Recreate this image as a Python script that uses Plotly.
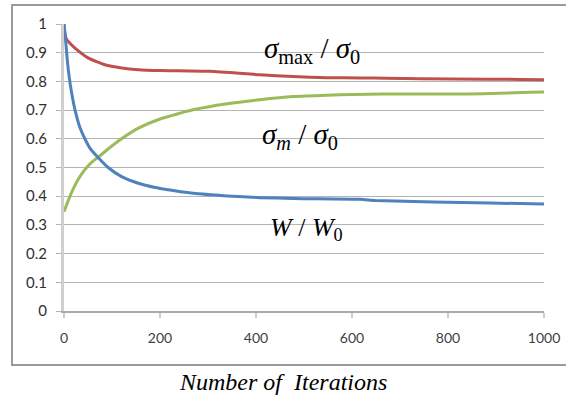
import plotly.graph_objects as go

red_x = [0, 2, 5, 9, 23, 51, 85, 120, 155, 200, 304, 408, 477, 548, 617, 672, 811, 950, 1000]
red_y = [1.0, 0.965, 0.948, 0.939, 0.916, 0.881, 0.858, 0.847, 0.841, 0.838, 0.835, 0.823, 0.817, 0.813, 0.812, 0.811, 0.808, 0.807, 0.806]

blue_x = [0, 3, 6, 9, 13, 18, 23, 33, 45, 55, 71, 92, 120, 155, 190, 210, 269, 340, 408, 477, 617, 648, 769, 888, 1000]
blue_y = [1.0, 0.95, 0.89, 0.84, 0.79, 0.74, 0.70, 0.640, 0.595, 0.565, 0.535, 0.50, 0.468, 0.445, 0.430, 0.424, 0.41, 0.401, 0.395, 0.392, 0.389, 0.385, 0.38, 0.376, 0.373]

green_x = [0, 10, 20, 30, 40, 50, 60, 75, 90, 120, 155, 200, 269, 340, 408, 477, 548, 602, 665, 840, 908, 971, 1000]
green_y = [0.346, 0.39, 0.428, 0.46, 0.485, 0.505, 0.521, 0.541, 0.562, 0.600, 0.637, 0.669, 0.701, 0.722, 0.736, 0.747, 0.752, 0.754, 0.756, 0.756, 0.759, 0.762, 0.763]

x_ticks = [0, 200, 400, 600, 800, 1000]
y_ticks = [0, 0.1, 0.2, 0.3, 0.4, 0.5, 0.6, 0.7, 0.8, 0.9, 1]
y_labels = ["0", "0.1", "0.2", "0.3", "0.4", "0.5", "0.6", "0.7", "0.8", "0.9", "1"]

fig = go.Figure()
for xs, ys, c in [(red_x, red_y, "#C0504D"), (green_x, green_y, "#9BBB59"), (blue_x, blue_y, "#4F81BD")]:
    fig.add_trace(go.Scatter(x=xs, y=ys, mode="lines", line=dict(color=c, width=3, shape="spline", smoothing=0.5),
                             showlegend=False))

W, H = 566, 398
L, R, T, B = 64, 22, 24, 87
PW, PH = W - L - R, H - T - B

fig.update_layout(
    width=W, height=H,
    margin=dict(l=L, r=R, t=T, b=B, autoexpand=False),
    paper_bgcolor="white", plot_bgcolor="white",
    font=dict(family="Lato", size=14, color="#404040"),
    xaxis=dict(range=[0, 1000], tickvals=x_ticks, ticktext=[str(v) for v in x_ticks],
               showgrid=False, zeroline=False, showline=True, linecolor="#aaaaaa", linewidth=2,
               ticks="outside", ticklen=5, tickcolor="#cccccc", tickwidth=2,
               ticklabelstandoff=8, automargin=False,
               tickfont=dict(size=14, color="#404040")),
    yaxis=dict(range=[0, 1], tickvals=y_ticks, ticktext=y_labels,
               showgrid=True, gridcolor="#b4b4b4", gridwidth=1, zeroline=False,
               showline=True, linecolor="#cfcfcf", linewidth=3,
               ticks="outside", ticklen=5, tickcolor="#b4b4b4", tickwidth=1,
               ticklabelstandoff=6, automargin=False,
               tickfont=dict(size=15, color="#303030")),
)

# outer chart border (right side runs off the image)
fig.add_shape(type="rect", xref="paper", yref="paper",
              x0=(12 - L) / PW, x1=(W + 40 - L) / PW,
              y0=(H - B - 365) / PH, y1=(H - B - 5) / PH,
              line=dict(color="#9a9a9a", width=2), layer="below")

serif = "'Liberation Serif', 'Times New Roman', Times, serif"
fig.add_annotation(xref="x", yref="y", x=412, y=0.91, xanchor="left", yanchor="middle",
                   text="<i>σ</i><sub>max</sub> / <i>σ</i><sub>0</sub>", showarrow=False,
                   font=dict(family=serif, size=29, color="#000000"))
fig.add_annotation(xref="x", yref="y", x=408, y=0.61, xanchor="left", yanchor="middle",
                   text="<i>σ<sub>m</sub></i> / <i>σ</i><sub>0</sub>", showarrow=False,
                   font=dict(family=serif, size=29, color="#000000"))
fig.add_annotation(xref="x", yref="y", x=425, y=0.285, xanchor="left", yanchor="middle",
                   text="<i>W</i> / <i>W</i><sub>0</sub>", showarrow=False,
                   font=dict(family=serif, size=26, color="#000000"))
fig.add_annotation(xref="paper", yref="paper", x=(283 - L) / PW, y=(H - B - 382) / PH,
                   xanchor="center", yanchor="middle", text="<i>Number of  Iterations</i>", showarrow=False,
                   font=dict(family=serif, size=24, color="#000000"))

fig.write_html("out.html")
